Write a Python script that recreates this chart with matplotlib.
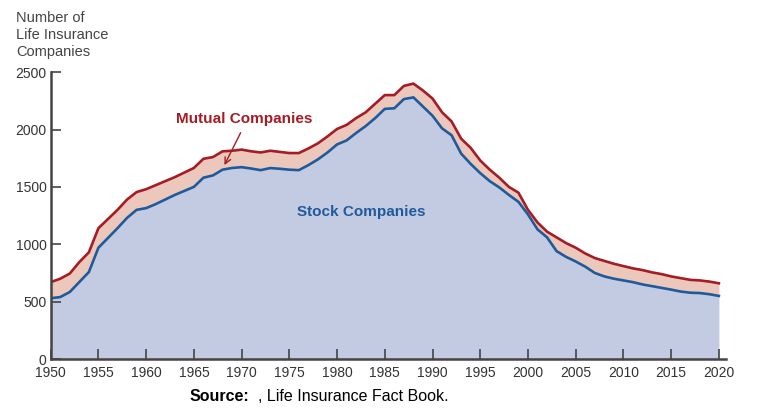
import numpy as np
import matplotlib.pyplot as plt

years = np.arange(1950, 2021)

# total companies (top of red band) and stock companies (blue)
total = [670, 700, 745, 845, 930, 1140, 1220, 1300, 1390, 1455,
         1480, 1515, 1550, 1585, 1625, 1665, 1745, 1760, 1810, 1815,
         1825, 1810, 1800, 1815, 1805, 1795, 1795, 1835, 1880, 1940,
         2005, 2040, 2100, 2150, 2225, 2300, 2300, 2380, 2400, 2340,
         2270, 2150, 2070, 1920, 1840, 1730, 1650, 1580, 1500, 1450,
         1300, 1190, 1110, 1060, 1010, 970, 920, 880, 855, 830,
         810, 790, 775, 755, 740, 720, 705, 690, 685, 675,
         660]
stock = [530, 540, 584, 671, 758, 970, 1055, 1140, 1230, 1300,
         1315, 1350, 1390, 1430, 1465, 1500, 1580, 1600, 1650, 1665,
         1672, 1660, 1646, 1664, 1658, 1650, 1646, 1690, 1740, 1800,
         1870, 1905, 1970, 2030, 2100, 2180, 2185, 2265, 2280, 2200,
         2120, 2010, 1950, 1790, 1700, 1620, 1550, 1495, 1430, 1370,
         1260, 1130, 1060, 940, 890, 850, 805, 750, 720, 700,
         685, 670, 650, 635, 620, 605, 588, 578, 575, 565,
         550]

plt.rcParams['font.family'] = ['Liberation Sans', 'DejaVu Sans']

fig = plt.figure(figsize=(7.6, 4.17), dpi=100)
ax = fig.add_axes([0.0667, 0.139, 0.888, 0.688])

red = '#a51c24'
blue = '#1f5a9a'
ax.fill_between(years, 0, stock, color='#c3cbe3', lw=0)
ax.fill_between(years, stock, total, color='#ecc8bc', lw=0)
ax.plot(years, total, color=red, lw=1.9)
ax.plot(years, stock, color=blue, lw=1.9)

ax.set_xlim(1950, 2020.7)
ax.set_ylim(0, 2500)
ax.set_xticks(np.arange(1950, 2021, 5))
ax.set_yticks(np.arange(0, 2501, 500))
for s in ['top', 'right']:
    ax.spines[s].set_visible(False)
for s in ['left', 'bottom']:
    ax.spines[s].set_color('#444444')
    ax.spines[s].set_linewidth(1.8)
ax.tick_params(direction='in', length=7, width=1.2, color='#444444',
               labelcolor='#333333', labelsize=10)
ax.tick_params(axis='x', pad=5)
ax.tick_params(axis='y', pad=3)

fig.text(0.021, 0.974, 'Number of\nLife Insurance\nCompanies', ha='left', va='top',
         fontsize=10.5, color='#444444', linespacing=1.3)

ax.annotate('Mutual Companies', xy=(1968.2, 1690), xytext=(1963.1, 2090),
            color=red, fontsize=11, fontweight='bold', ha='left', va='center',
            arrowprops=dict(arrowstyle='->', color=red, lw=1,
                            shrinkA=3, shrinkB=0, relpos=(0.5, 0)))
ax.text(1982.5, 1280, 'Stock Companies', color=blue, fontsize=11,
        fontweight='bold', ha='center', va='center')

fig.text(0.249, 0.048, 'Source:', fontsize=11.5, fontweight='bold', ha='left', va='center')
fig.text(0.34, 0.048, ', Life Insurance Fact Book.', fontsize=11.5, ha='left', va='center')

fig.savefig('out.png', dpi=100)
